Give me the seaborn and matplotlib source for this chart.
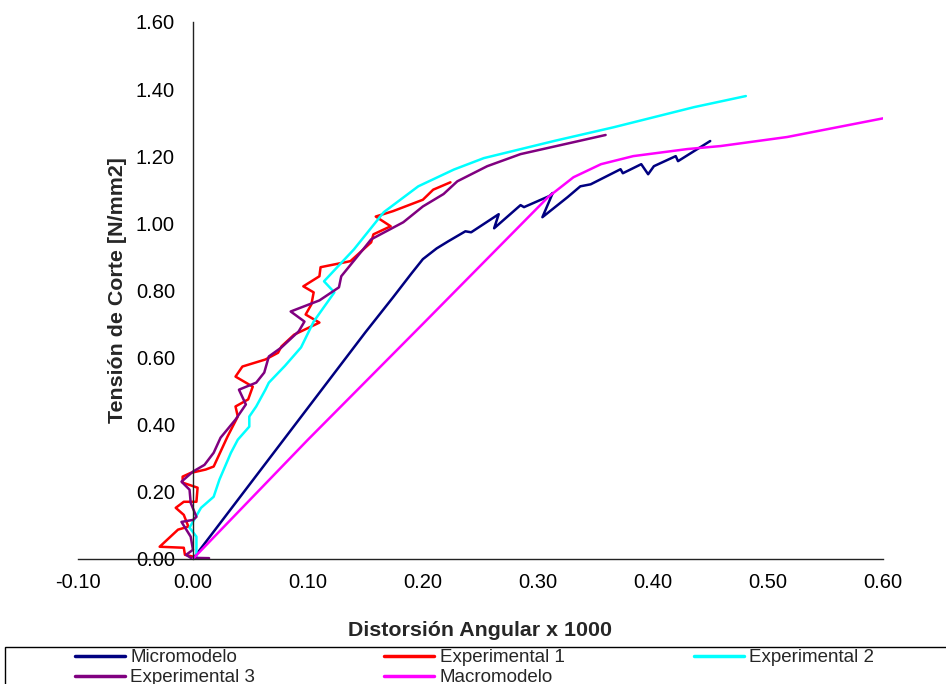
import matplotlib
matplotlib.use("Agg")
import matplotlib.pyplot as plt
from matplotlib.patches import Rectangle
import seaborn as sns

# data (x = distortion x 1000, y = shear stress N/mm2)
micro_x = [0.0, 0.04, 0.08, 0.12, 0.15, 0.174, 0.19, 0.2, 0.212, 0.222, 0.237, 0.242, 0.266, 0.262,
           0.285, 0.288, 0.31, 0.313, 0.304, 0.326, 0.337, 0.346, 0.372, 0.374, 0.39, 0.396, 0.401,
           0.42, 0.422, 0.45]
micro_y = [0.0, 0.18, 0.36, 0.54, 0.675, 0.779, 0.85, 0.893, 0.925, 0.946, 0.976, 0.973, 1.027, 0.985,
           1.054, 1.048, 1.081, 1.09, 1.018, 1.078, 1.11, 1.116, 1.161, 1.149, 1.176, 1.146, 1.170,
           1.20, 1.185, 1.245]

exp1_x = [0.001, -0.007, -0.008, -0.029, -0.013, -0.004, -0.008, -0.015, -0.008, 0.003, 0.004, -0.009,
          -0.009, -0.002, 0.011, 0.018, 0.03, 0.039, 0.037, 0.048, 0.052, 0.037, 0.043, 0.063, 0.074,
          0.077, 0.088, 0.11, 0.098, 0.103, 0.105, 0.096, 0.11, 0.111, 0.137, 0.155, 0.157, 0.172,
          0.159, 0.174, 0.2, 0.209, 0.224]
exp1_y = [0.006, 0.012, 0.033, 0.036, 0.087, 0.096, 0.131, 0.152, 0.17, 0.17, 0.212, 0.227,
          0.245, 0.256, 0.266, 0.275, 0.364, 0.424, 0.454, 0.475, 0.513, 0.543, 0.573, 0.594, 0.614,
          0.633, 0.668, 0.704, 0.728, 0.758, 0.794, 0.812, 0.842, 0.869, 0.887, 0.943, 0.967, 0.991,
          1.02, 1.036, 1.07, 1.10, 1.122]

exp2_x = [0.003, 0.003, -0.003, 0.007, 0.018, 0.023, 0.033, 0.039, 0.049, 0.049, 0.055, 0.063, 0.066,
          0.08, 0.094, 0.105, 0.123, 0.114, 0.14, 0.166, 0.196, 0.227, 0.253, 0.314, 0.366, 0.436, 0.481]
exp2_y = [0.006, 0.066, 0.093, 0.152, 0.185, 0.236, 0.316, 0.355, 0.394, 0.424, 0.454, 0.504, 0.525,
          0.575, 0.63, 0.707, 0.794, 0.827, 0.922, 1.033, 1.11, 1.16, 1.194, 1.245, 1.286, 1.346, 1.379]

exp3_x = [0.014, -0.002, -0.006, 0.0, -0.002, -0.01, 0.0, 0.003, -0.002, -0.003, -0.01, 0.0, 0.01,
          0.018, 0.024, 0.037, 0.046, 0.04, 0.055, 0.062, 0.066, 0.077, 0.092, 0.097, 0.085, 0.11,
          0.127, 0.129, 0.148, 0.155, 0.183, 0.2, 0.218, 0.23, 0.256, 0.285, 0.359]
exp3_y = [0.002, 0.003, 0.012, 0.027, 0.066, 0.11, 0.116, 0.125, 0.167, 0.206, 0.23, 0.26, 0.28,
          0.316, 0.361, 0.415, 0.46, 0.504, 0.525, 0.555, 0.603, 0.63, 0.678, 0.707, 0.737, 0.77,
          0.809, 0.842, 0.922, 0.952, 1.003, 1.05, 1.087, 1.125, 1.17, 1.206, 1.263]

macro_x = [0.0, 0.1, 0.2, 0.309, 0.331, 0.355, 0.383, 0.43, 0.459, 0.517, 0.601]
macro_y = [0.0, 0.355, 0.70, 1.078, 1.137, 1.176, 1.2, 1.221, 1.23, 1.257, 1.313]

x_ticks = [-0.10, 0.00, 0.10, 0.20, 0.30, 0.40, 0.50, 0.60]
y_ticks = [0.00, 0.20, 0.40, 0.60, 0.80, 1.00, 1.20, 1.40, 1.60]

sns.set_style("white")
plt.rcParams['font.family'] = ['Liberation Sans', 'DejaVu Sans']

fig = plt.figure(figsize=(9.46, 6.84), dpi=100)
ax = fig.add_axes([0.0825, 0.183, 0.8505, 0.785])

series = [
    ("Micromodelo", micro_x, micro_y, "#000080"),
    ("Experimental 1", exp1_x, exp1_y, "#FF0000"),
    ("Experimental 2", exp2_x, exp2_y, "#00FFFF"),
    ("Experimental 3", exp3_x, exp3_y, "#800080"),
    ("Macromodelo", macro_x, macro_y, "#FF00FF"),
]
for name, xs, ys, c in series:
    sns.lineplot(x=xs, y=ys, sort=False, estimator=None, color=c, lw=1.8, label=name, ax=ax)

ax.spines['left'].set_position(('data', 0))
ax.spines['top'].set_visible(False)
ax.spines['right'].set_visible(False)
for s in ['left', 'bottom']:
    ax.spines[s].set_color('#222222')
    ax.spines[s].set_linewidth(1.0)

ax.set_xlim(-0.10, 0.60)
ax.set_ylim(0, 1.60)
ax.set_xticks(x_ticks)
ax.set_yticks(y_ticks)
ax.set_xticklabels([f"{v:.2f}" for v in x_ticks])
ax.set_yticklabels([f"{v:.2f}" for v in y_ticks])
ax.tick_params(axis='both', direction='out', length=5, width=1, color='#222222',
               labelcolor='black', labelsize=14.5)
ax.tick_params(axis='y', pad=8)
ax.tick_params(axis='x', pad=5)

ax.set_xlabel("Distorsión Angular x 1000", fontsize=15.4, fontweight='bold', labelpad=21)
ax.set_ylabel("Tensión de Corte [N/mm2]", fontsize=15.4, fontweight='bold', labelpad=6)

# legend frame runs past the right/bottom edge of the figure
fig.patches.append(Rectangle((5 / 946, -0.2), 1.2, 0.2 + 1 - 647 / 684, transform=fig.transFigure,
                             fill=False, edgecolor='black', linewidth=1.0))

# legend: row-wise order, matplotlib fills column-wise
ax.get_legend().remove()
h, l = ax.get_legend_handles_labels()
order = [0, 3, 1, 4, 2]
leg = fig.legend([h[i] for i in order], [l[i] for i in order], ncol=3, loc='upper left',
                 bbox_to_anchor=(75 / 946, 1 - 649 / 684), fontsize=13.5, frameon=False,
                 handlelength=2.67, columnspacing=6.9, borderpad=0.0,
                 labelspacing=0.15, handletextpad=0.27, borderaxespad=0)
for line in leg.get_lines():
    line.set_linewidth(2.5)

plt.savefig("out.png", dpi=100)
